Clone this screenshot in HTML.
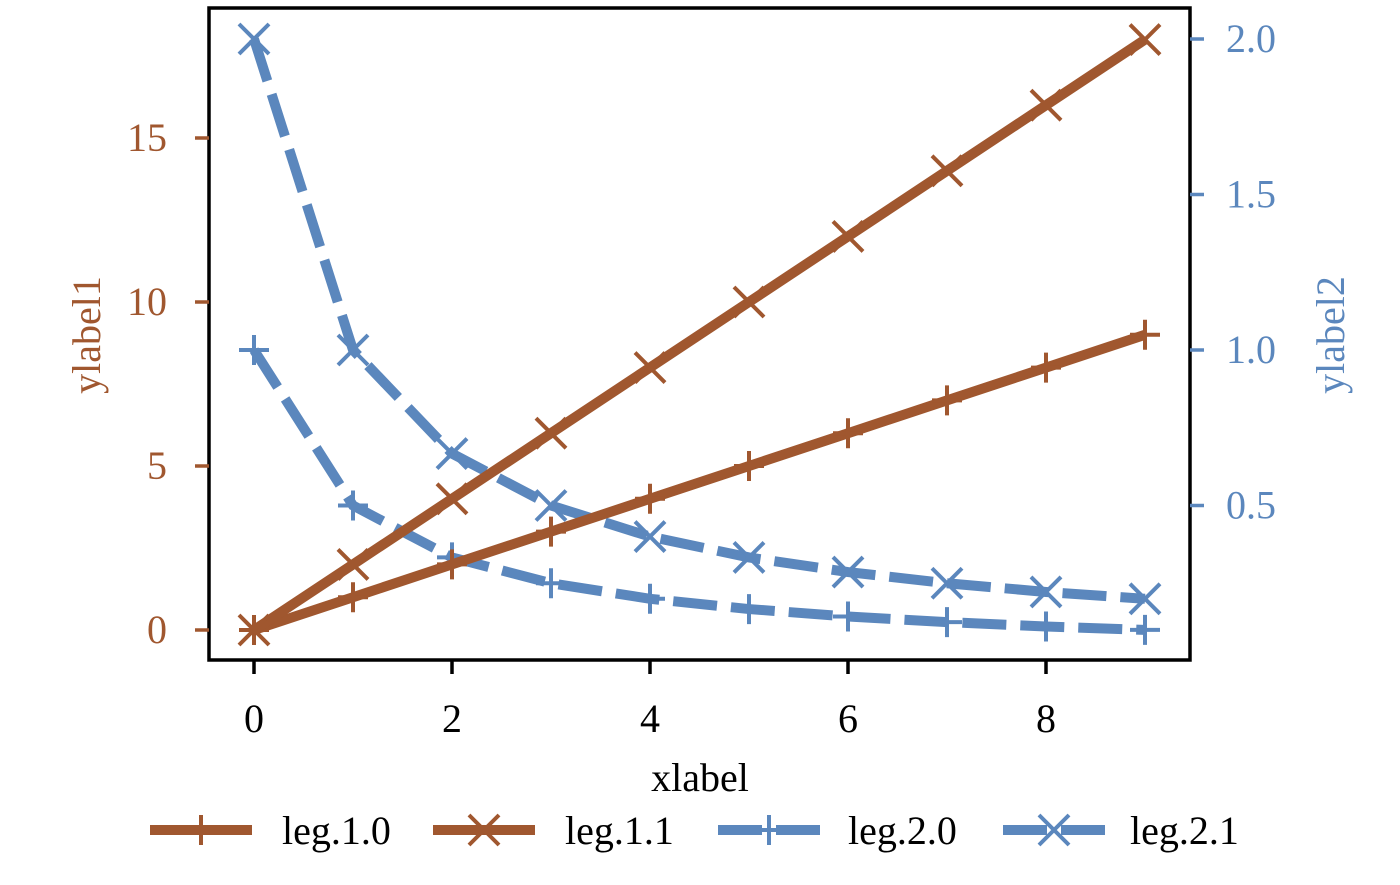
<!DOCTYPE html>
<html><head><meta charset="utf-8"><style>
html,body{margin:0;padding:0;background:#fff}
svg text{font-family:"Liberation Serif",serif}
</style></head><body>
<svg id="chart" width="1400" height="880" xmlns="http://www.w3.org/2000/svg"></svg>
<script>
const xs=[0,1,2,3,4,5,6,7,8,9];
const s10=[0,1,2,3,4,5,6,7,8,9];
const s11=[0,2,4,6,8,10,12,14,16,18];
const s20=[1.0,0.5,0.333,0.25,0.2,0.167,0.143,0.125,0.111,0.1];
const s21=[2.0,1.0,0.667,0.5,0.4,0.333,0.286,0.25,0.222,0.2];
const xTicks=[0,2,4,6,8];
const y1Ticks=[0,5,10,15];
const y2Ticks=[0.5,1.0,1.5,2.0];
const BROWN="#a0572f",BLUE="#5b87bd";
const L=209,R=1190,T=8,B=660;
const X=v=>254+v*99;
const Y1=v=>630-v*32.8;
const Y2=v=>350-(v-1)*311;
const svg=document.getElementById('chart');
const NS="http://www.w3.org/2000/svg";
function mk(tag,at,parent){const e=document.createElementNS(NS,tag);for(const k in at)e.setAttribute(k,at[k]);(parent||svg).appendChild(e);return e;}
function marker(type,x,y,c,g){
  const s=15;
  if(type==='+'){mk('path',{d:`M${x-s} ${y}H${x+s}M${x} ${y-s}V${y+s}`,stroke:c,'stroke-width':4,fill:'none'},g);}
  else {mk('path',{d:`M${x-s} ${y-s}L${x+s} ${y+s}M${x-s} ${y+s}L${x+s} ${y-s}`,stroke:c,'stroke-width':4,fill:'none'},g);}
}
function series(name,vals,yf,c,dash,type){
  const g=mk('g',{});
  
  
  const d=xs.map((x,i)=>(i?'L':'M')+X(x)+' '+yf(vals[i])).join('');
  mk('path',{d:d,stroke:c,'stroke-width':10,fill:'none','stroke-dasharray':dash||'none'},g);
  xs.forEach((x,i)=>marker(type,X(x),yf(vals[i]),c,g));
}
series('series-leg-2-0',s20,Y2,BLUE,'44 14','+');
series('series-leg-2-1',s21,Y2,BLUE,'44 14','x');
series('series-leg-1-0',s10,Y1,BROWN,null,'+');
series('series-leg-1-1',s11,Y1,BROWN,null,'x');
const frame=mk('rect',{x:L,y:T,width:R-L,height:B-T,fill:'none',stroke:'#000','stroke-width':3.5});


xTicks.forEach(v=>{
  mk('line',{x1:X(v),x2:X(v),y1:B,y2:B+14,stroke:'#000','stroke-width':3.5});
  const t=mk('text',{x:X(v),y:732,'font-size':40,'text-anchor':'middle',fill:'#000'});t.textContent=v;
  
  
});
y1Ticks.forEach(v=>{
  mk('line',{x1:L-14,x2:L,y1:Y1(v),y2:Y1(v),stroke:BROWN,'stroke-width':3.5});
  const t=mk('text',{x:167,y:Y1(v)+13,'font-size':40,'text-anchor':'end',fill:BROWN});t.textContent=v;
  
  
});
y2Ticks.forEach(v=>{
  mk('line',{x1:R,x2:R+14,y1:Y2(v),y2:Y2(v),stroke:BLUE,'stroke-width':3.5});
  const t=mk('text',{x:1226,y:Y2(v)+13,'font-size':40,fill:BLUE});t.textContent=v.toFixed(1);
  
  
});
let t=mk('text',{x:700,y:791,'font-size':40,'text-anchor':'middle',fill:'#000'});t.textContent='xlabel';


t=mk('text',{x:0,y:0,'font-size':40,'text-anchor':'middle',fill:BROWN,transform:'translate(100,335) rotate(-90)'});t.textContent='ylabel1';


t=mk('text',{x:0,y:0,'font-size':40,'text-anchor':'middle',fill:BLUE,transform:'translate(1344,335) rotate(-90)'});t.textContent='ylabel2';


const leg=[['leg.1.0',BROWN,null,'+',150,282],['leg.1.1',BROWN,null,'x',433,565],['leg.2.0',BLUE,'44 14','+',718,848],['leg.2.1',BLUE,'44 14','x',1003,1130]];
leg.forEach(l=>{
  const g=mk('g',{});
  
  
  mk('line',{x1:l[4],x2:l[4]+102,y1:830,y2:830,stroke:l[1],'stroke-width':10,'stroke-dasharray':l[2]||'none'},g);
  marker(l[3],l[4]+51,830,l[1],g);
  const tx=mk('text',{x:l[5],y:844,'font-size':40,fill:'#000'},g);tx.textContent=l[0];
});
</script>
</body></html>
